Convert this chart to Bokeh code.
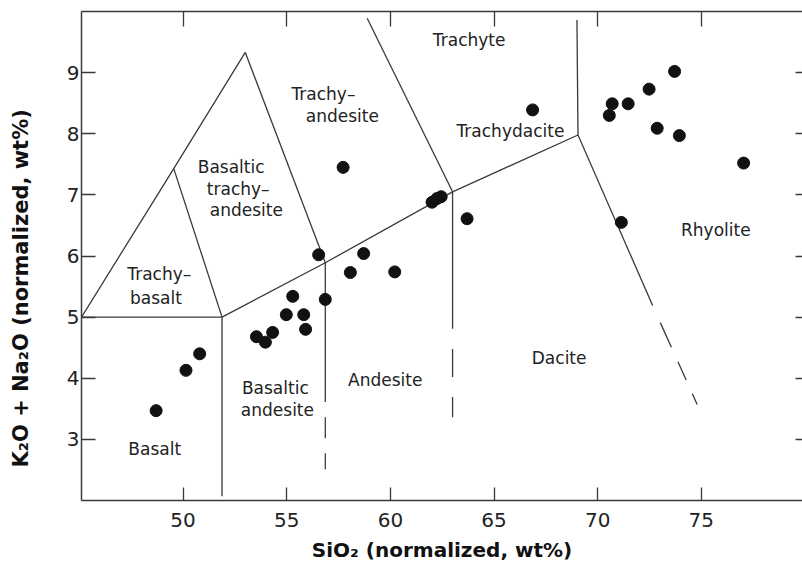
from bokeh.plotting import figure
from bokeh.models import Range1d, LinearAxis, FixedTicker, ColumnDataSource, Title
from bokeh.core.properties import value
from bokeh.embed import file_html
from bokeh.resources import INLINE

# ---------------- data ----------------
sio2 = [48.70, 50.14, 50.80, 53.54, 53.97, 54.32, 54.98, 55.29, 55.82, 55.91,
        56.54, 56.86, 57.72, 58.07, 58.71, 60.21, 62.01, 62.25, 62.45, 63.70,
        66.86, 70.56, 70.70, 71.14, 71.47, 72.48, 72.87, 73.71, 73.94, 77.04]
alkali = [3.47, 4.13, 4.40, 4.68, 4.59, 4.75, 5.04, 5.34, 5.04, 4.80,
          6.02, 5.29, 7.45, 5.73, 6.04, 5.74, 6.88, 6.94, 6.97, 6.61,
          8.39, 8.30, 8.49, 6.55, 8.49, 8.73, 8.09, 9.02, 7.97, 7.52]

x_ticks = [50, 55, 60, 65, 70, 75]
y_ticks = [3, 4, 5, 6, 7, 8, 9]

# field boundaries (solid)
solid_xs = [[45.1, 49.55, 53.0], [49.55, 51.88], [45.1, 51.88], [51.88, 51.88],
            [53.0, 56.86], [51.88, 56.86, 63.0, 69.05], [63.0, 58.88],
            [69.05, 69.0], [69.05, 72.65], [56.86, 56.86], [63.0, 63.0]]
solid_ys = [[5.0, 7.43, 9.33], [7.43, 5.0], [5.0, 5.0], [5.0, 2.07],
            [9.33, 5.89], [5.0, 5.89, 7.05, 7.98], [7.05, 9.89],
            [7.98, 9.86], [7.98, 5.19], [5.89, 3.61], [7.05, 4.81]]
# field boundaries (dashed continuations)
dash57_x = [56.86, 56.86]
dash57_y = [3.36, 2.51]
dash63_x = [63.0, 63.0]
dash63_y = [4.48, 3.36]
dash_rhy_x = [73.02, 74.80]
dash_rhy_y = [4.91, 3.57]

field_names = ["Trachyte", "Trachy\u2013", "andesite", "Trachydacite", "Basaltic",
               "trachy\u2013", "andesite", "Trachy\u2013", "basalt", "Rhyolite",
               "Basalt", "Basaltic", "andesite", "Andesite", "Dacite"]
field_x = [63.80, 56.77, 57.68, 65.79, 52.32, 52.66, 53.05, 48.85, 48.69, 75.70,
           48.63, 54.45, 54.55, 59.75, 68.14]
field_y = [9.44, 8.56, 8.20, 7.95, 7.36, 7.00, 6.65, 5.61, 5.22, 6.32,
           2.74, 3.75, 3.39, 3.87, 4.24]

x_title = "SiO\u2082 (normalized, wt%)"
y_title = "K\u2082O + Na\u2082O (normalized, wt%)"

# ---------------- figure ----------------
p = figure(frame_width=721, frame_height=489,
           x_range=Range1d(45.1, 79.88), y_range=Range1d(2, 10),
           output_backend="svg", toolbar_location=None,
           min_border_left=81, min_border_right=0, min_border_top=11,
           min_border_bottom=68)
p.grid.visible = False
p.outline_line_color = None
p.background_fill_color = "white"
p.border_fill_color = "white"

LC = "#3a3a3a"
FONT = "DejaVu Sans"

xa = p.xaxis[0]
xa.ticker = FixedTicker(ticks=x_ticks)
ya = p.yaxis[0]
ya.ticker = FixedTicker(ticks=y_ticks)
for ax, tin, st in ((xa, 13, 12), (ya, 14, 2)):
    ax.major_tick_in = tin
    ax.major_tick_out = 0
    ax.minor_tick_line_color = None
    ax.axis_line_color = LC
    ax.axis_line_width = 1.5
    ax.major_tick_line_color = LC
    ax.major_tick_line_width = 1.3
    ax.major_label_text_font = FONT
    ax.major_label_text_font_size = "20px"
    ax.major_label_text_color = "#222222"
    ax.major_label_standoff = st
xa.axis_label = x_title
xa.axis_label_standoff = 8
xa.axis_label_text_font = FONT
xa.axis_label_text_font_style = "bold"
xa.axis_label_text_font_size = "20px"
xa.axis_label_text_color = "#111111"

top = LinearAxis(ticker=FixedTicker(ticks=x_ticks), major_tick_in=15, major_tick_out=0,
                 minor_tick_line_color=None, axis_line_color=LC, axis_line_width=1.5,
                 major_tick_line_color=LC, major_tick_line_width=1.3,
                 major_label_overrides={t: "" for t in x_ticks},
                 major_label_text_font_size="0px", major_label_standoff=0)
right = LinearAxis(ticker=FixedTicker(ticks=y_ticks), major_tick_in=7, major_tick_out=0,
                   minor_tick_line_color=None, axis_line_color=None,
                   major_tick_line_color=LC, major_tick_line_width=1.3,
                   major_label_overrides={t: "" for t in y_ticks},
                   major_label_text_font_size="0px", major_label_standoff=0)
p.add_layout(top, "above")
p.add_layout(right, "right")

# invisible spacer axis between the y tick labels and the y title
spacer = LinearAxis(ticker=FixedTicker(ticks=[5]), major_tick_in=0, major_tick_out=28,
                    minor_tick_line_color=None, axis_line_color=None,
                    major_tick_line_color=None, major_label_standoff=0,
                    major_label_overrides={5: ""},
                    major_label_text_font_size="0px")
p.add_layout(spacer, "left")

# y-axis title as a side-panel title (sits lower than the frame centre, like the original)
ytitle = Title(text=y_title, align="left", offset=33, standoff=6,
               text_font=FONT, text_font_style="bold", text_font_size="21px",
               text_color="#111111")
p.add_layout(ytitle, "left")

# boundaries
p.multi_line(xs=solid_xs, ys=solid_ys, line_color=LC, line_width=1.3)
p.line(dash57_x, dash57_y, line_color=LC, line_width=1.3, line_dash="21 15")
p.line(dash63_x, dash63_y, line_color=LC, line_width=1.3, line_dash="28 20")
p.line(dash_rhy_x, dash_rhy_y, line_color=LC, line_width=1.3, line_dash="27 16 20 15 13 80")

# field names
lab_src = ColumnDataSource(dict(x=field_x, y=field_y, t=field_names))
p.text(x="x", y="y", text="t", source=lab_src, text_align="center",
       text_baseline="alphabetic", y_offset=-6, text_font=value(FONT),
       text_font_size="17px", text_color="#222222")

# samples
p.scatter(sio2, alkali, size=12, fill_color="#111111", line_color="#111111")

open("out.html", "w").write(file_html(p, INLINE))
